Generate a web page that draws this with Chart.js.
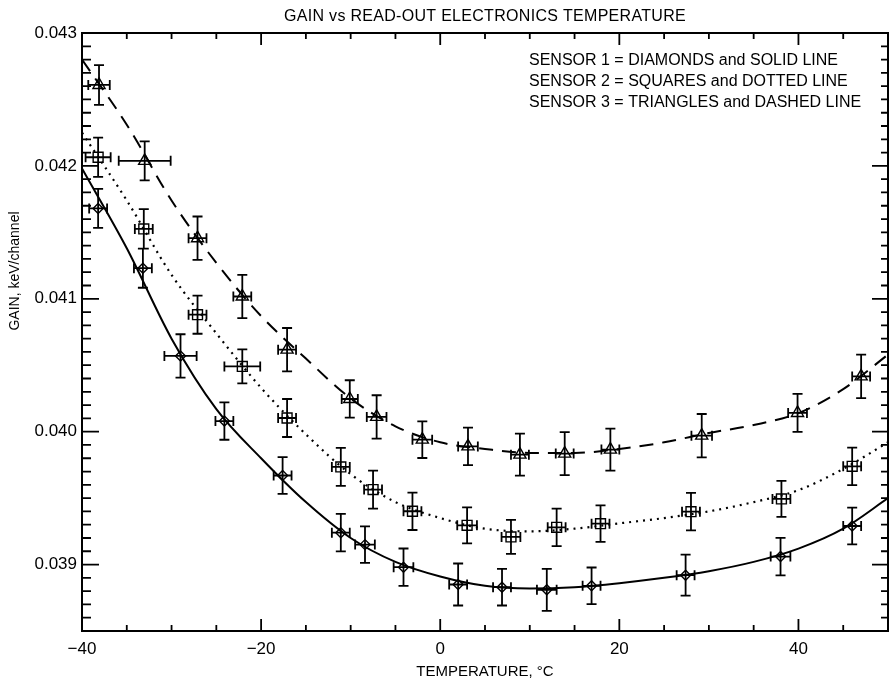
<!DOCTYPE html>
<html lang="en">
<head>
  <meta charset="UTF-8">
  <title>Gain vs read-out electronics temperature</title>
  <script src="https://cdn.jsdelivr.net/npm/chart.js"></script>
  <style>
    body { margin: 0; background: #fff; }
    canvas { display: block; }
  </style>
</head>
<body>
  <canvas id="gainChart" width="889" height="679"></canvas>

  <script>
    // sensor 1 - diamonds, solid line
    const temps1 = [-38.2, -33.2, -29.0, -24.1, -17.6, -11.1, -8.4, -4.1, 2.0, 6.9, 11.9, 16.9, 27.4, 38.0, 46.0];
    const gain1  = [0.04168, 0.04123, 0.04057, 0.04008, 0.03967, 0.03924, 0.03915, 0.03898, 0.03885, 0.03883, 0.03881, 0.03884, 0.03892, 0.03906, 0.03929];
    const tErr1  = [1.0, 1.0, 1.8, 1.0, 1.0, 1.0, 1.1, 1.1, 1.0, 1.0, 1.1, 1.0, 1.0, 1.1, 1.0];
    const gErr1  = [0.000147, 0.000147, 0.000163, 0.000141, 0.000138, 0.000141, 0.000138, 0.000141, 0.000158, 0.000138, 0.000158, 0.000138, 0.000154, 0.000141, 0.000138];

    // sensor 2 - squares, dotted line
    const temps2 = [-38.2, -33.1, -27.1, -22.1, -17.1, -11.1, -7.5, -3.1, 3.0, 7.9, 13.0, 17.9, 28.0, 38.1, 46.0];
    const gain2  = [0.042065, 0.041526, 0.04088, 0.040491, 0.040103, 0.039735, 0.039564, 0.039401, 0.039295, 0.039208, 0.03928, 0.039308, 0.039398, 0.039494, 0.039739];
    const tErr2  = [1.4, 1.0, 1.0, 2.0, 1.0, 1.0, 1.0, 1.0, 1.1, 1.05, 1.0, 1.0, 1.0, 1.0, 1.0];
    const gErr2  = [0.000147, 0.000149, 0.000143, 0.000128, 0.000143, 0.000143, 0.000143, 0.000141, 0.000135, 0.000128, 0.000141, 0.000138, 0.000141, 0.000135, 0.000141];

    // sensor 3 - triangles, dashed line
    const temps3 = [-38.1, -33.0, -27.1, -22.1, -17.1, -10.1, -7.1, -2.0, 3.1, 8.9, 13.9, 19.0, 29.2, 39.9, 47.0];
    const gain3  = [0.042609, 0.042038, 0.041456, 0.041017, 0.040617, 0.040246, 0.040111, 0.03994, 0.039889, 0.039827, 0.039835, 0.039865, 0.03997, 0.040141, 0.040416];
    const tErr3  = [1.2, 2.9, 1.0, 1.0, 1.0, 0.9, 1.1, 1.1, 1.1, 1.0, 1.0, 1.0, 1.15, 1.05, 1.0];
    const gErr3  = [0.00015, 0.000147, 0.000163, 0.000163, 0.000163, 0.000141, 0.000163, 0.000138, 0.000141, 0.000158, 0.000162, 0.000158, 0.000163, 0.000143, 0.000163];

    // fitted curves
    const fitTemps = [-40, -35, -30, -25, -20, -15, -10, -5, 0, 5, 10, 15, 20, 25, 30, 35, 40, 45, 50];
    const fit1 = [0.04198, 0.04138, 0.04070, 0.04017, 0.03980, 0.03947, 0.03920, 0.03902, 0.03891, 0.03884, 0.03882, 0.03883, 0.03886, 0.03890, 0.03895, 0.03902, 0.03912, 0.03927, 0.03950];
    const fit2 = [0.04225, 0.04174, 0.04118, 0.04074, 0.04033, 0.03998, 0.03968, 0.03947, 0.03935, 0.03927, 0.03925, 0.03927, 0.03931, 0.03935, 0.03940, 0.03947, 0.03956, 0.03972, 0.03992];
    const fit3 = [0.04280, 0.04231, 0.04174, 0.04127, 0.04087, 0.04055, 0.04025, 0.04004, 0.03992, 0.03987, 0.03984, 0.03984, 0.03987, 0.03992, 0.03999, 0.04005, 0.04014, 0.04032, 0.04058];

    const xTicks = [-40, -20, 0, 20, 40];
    const yTicks = [0.039, 0.040, 0.041, 0.042, 0.043];

    const titleText = 'GAIN vs READ-OUT ELECTRONICS TEMPERATURE';
    const xTitle = 'TEMPERATURE, \u00B0C';
    const yTitle = 'GAIN, keV/channel';
    const notes = [
      'SENSOR 1 = DIAMONDS and SOLID LINE',
      'SENSOR 2 = SQUARES and DOTTED LINE',
      'SENSOR 3 = TRIANGLES and DASHED LINE'
    ];

    const FONT = '"Liberation Sans", Arial, sans-serif';

    function pts(xs, ys) {
      return xs.map((x, i) => ({ x: x, y: ys[i] }));
    }

    const errSets = [
      { t: temps1, g: gain1, te: tErr1, ge: gErr1 },
      { t: temps2, g: gain2, te: tErr2, ge: gErr2 },
      { t: temps3, g: gain3, te: tErr3, ge: gErr3 }
    ];

    // error bars, frame with inward ticks, titles and the sensor notes
    const decorations = {
      id: 'decorations',
      beforeDatasetsDraw(chart) {
        const { ctx, scales: { x, y } } = chart;
        ctx.save();
        ctx.strokeStyle = '#000';
        ctx.lineWidth = 1.8;
        ctx.beginPath();
        errSets.forEach(s => {
          s.t.forEach((t, i) => {
            const px = x.getPixelForValue(t);
            const py = y.getPixelForValue(s.g[i]);
            const x0 = x.getPixelForValue(t - s.te[i]);
            const x1 = x.getPixelForValue(t + s.te[i]);
            const y0 = y.getPixelForValue(s.g[i] + s.ge[i]);
            const y1 = y.getPixelForValue(s.g[i] - s.ge[i]);
            ctx.moveTo(x0, py); ctx.lineTo(x1, py);
            ctx.moveTo(x0, py - 5); ctx.lineTo(x0, py + 5);
            ctx.moveTo(x1, py - 5); ctx.lineTo(x1, py + 5);
            ctx.moveTo(px, y0); ctx.lineTo(px, y1);
            ctx.moveTo(px - 5, y0); ctx.lineTo(px + 5, y0);
            ctx.moveTo(px - 5, y1); ctx.lineTo(px + 5, y1);
          });
        });
        ctx.stroke();
        ctx.restore();
      },
      afterDraw(chart) {
        const { ctx, chartArea: a, scales: { x, y } } = chart;
        ctx.save();
        ctx.strokeStyle = '#000';
        ctx.lineWidth = 1.8;
        ctx.beginPath();
        // x ticks every 5 degrees, bottom and top
        for (let i = 0; i <= 18; i++) {
          const v = -40 + i * 5;
          const px = x.getPixelForValue(v);
          const len = (v % 20 === 0) ? 12 : 6;
          ctx.moveTo(px, a.bottom); ctx.lineTo(px, a.bottom - len);
          ctx.moveTo(px, a.top); ctx.lineTo(px, a.top + len);
        }
        // y ticks every 0.0001, left and right
        for (let i = 0; i <= 45; i++) {
          const v = 0.0385 + i * 0.0001;
          const py = y.getPixelForValue(v);
          const major = Math.abs(v * 1000 - Math.round(v * 1000)) < 1e-6;
          ctx.moveTo(a.left, py); ctx.lineTo(a.left + (major ? 17 : 9), py);
          ctx.moveTo(a.right, py); ctx.lineTo(a.right - (major ? 16 : 7), py);
        }
        ctx.stroke();
        ctx.lineWidth = 2;
        ctx.strokeRect(a.left, a.top, a.right - a.left, a.bottom - a.top);

        ctx.fillStyle = '#000';
        ctx.textAlign = 'center';
        ctx.textBaseline = 'alphabetic';
        ctx.font = '16px ' + FONT;
        ctx.letterSpacing = '0.3px';
        ctx.fillText(titleText, (a.left + a.right) / 2, 21);
        ctx.letterSpacing = '0px';
        ctx.font = '15px ' + FONT;
        ctx.fillText(xTitle, (a.left + a.right) / 2, 676);

        ctx.save();
        ctx.translate(19, 271);
        ctx.rotate(-Math.PI / 2);
        ctx.font = '14px ' + FONT;
        ctx.fillText(yTitle, 0, 0);
        ctx.restore();

        ctx.textAlign = 'left';
        ctx.font = '16px ' + FONT;
        notes.forEach((line, i) => ctx.fillText(line, 529, 65 + i * 21));
        ctx.restore();
      }
    };

    const ctx = document.getElementById('gainChart').getContext('2d');
    new Chart(ctx, {
      type: 'scatter',
      data: {
        datasets: [
          { data: pts(fitTemps, fit1), showLine: true, pointRadius: 0, borderColor: '#000', borderWidth: 2, cubicInterpolationMode: 'monotone' },
          { data: pts(fitTemps, fit2), showLine: true, pointRadius: 0, borderColor: '#000', borderWidth: 2.2, borderDash: [2, 5], cubicInterpolationMode: 'monotone' },
          { data: pts(fitTemps, fit3), showLine: true, pointRadius: 0, borderColor: '#000', borderWidth: 2, borderDash: [14, 9], cubicInterpolationMode: 'monotone' },
          { data: pts(temps1, gain1), pointStyle: 'rectRot', pointRadius: 5, borderColor: '#000', borderWidth: 1.4, backgroundColor: 'rgba(0,0,0,0)' },
          { data: pts(temps2, gain2), pointStyle: 'rect', pointRadius: 7, borderColor: '#000', borderWidth: 1.4, backgroundColor: 'rgba(0,0,0,0)' },
          { data: pts(temps3, gain3), pointStyle: 'triangle', pointRadius: 7, borderColor: '#000', borderWidth: 1.4, backgroundColor: 'rgba(0,0,0,0)' }
        ]
      },
      options: {
        responsive: false,
        animation: false,
        layout: { autoPadding: false, padding: { top: 33, right: 1, left: 0, bottom: 0 } },
        plugins: { legend: { display: false }, tooltip: { enabled: false } },
        scales: {
          x: {
            type: 'linear', min: -40, max: 50,
            grid: { display: false, drawTicks: false },
            border: { display: false },
            afterBuildTicks: s => { s.ticks = xTicks.map(v => ({ value: v })); },
            afterFit: s => { s.height = 48; s.paddingLeft = 0; s.paddingRight = 0; },
            ticks: {
              color: '#000', padding: 8, maxRotation: 0, autoSkip: false,
              font: { size: 17, family: FONT },
              callback: v => (v < 0 ? '\u2212' : '') + Math.abs(v)
            }
          },
          y: {
            type: 'linear', min: 0.0385, max: 0.043,
            grid: { display: false, drawTicks: false },
            border: { display: false },
            afterBuildTicks: s => { s.ticks = yTicks.map(v => ({ value: v })); },
            afterFit: s => { s.width = 82; s.paddingTop = 0; s.paddingBottom = 0; },
            ticks: {
              color: '#000', padding: 5, autoSkip: false,
              font: { size: 17, family: FONT },
              callback: v => v.toFixed(3)
            }
          }
        }
      },
      plugins: [decorations]
    });
  </script>
</body>
</html>
